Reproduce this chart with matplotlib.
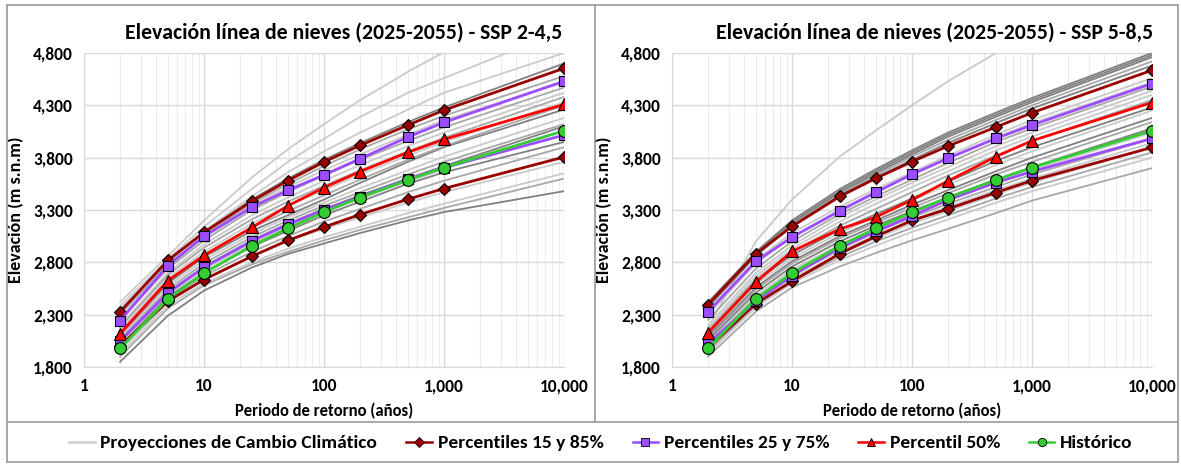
import matplotlib
matplotlib.use('Agg')
import matplotlib.pyplot as plt
from matplotlib.lines import Line2D
from matplotlib.ticker import FixedLocator, FixedFormatter, LogLocator, NullFormatter

plt.rcParams['font.family'] = ['Carlito', 'Lato', 'DejaVu Sans']
plt.rcParams['font.weight'] = 'bold'

# return periods (years)
periods = [2, 5, 10, 25, 50, 100, 200, 500, 1000, 10000]

# historical snow line elevation (same in both panels)
historico = [1978, 2451, 2698, 2956, 3124, 3279, 3419, 3587, 3705, 4057]

# SSP 2-4,5
ssp245_p15 = [2000, 2429, 2635, 2857, 3010, 3137, 3257, 3403, 3505, 3806]
ssp245_p85 = [2327, 2819, 3086, 3384, 3581, 3759, 3917, 4111, 4254, 4654]
ssp245_p25 = [2048, 2508, 2752, 3003, 3162, 3302, 3422, 3597, 3705, 4016]
ssp245_p75 = [2244, 2768, 3048, 3327, 3489, 3635, 3790, 3997, 4137, 4530]
ssp245_p50 = [2120, 2625, 2867, 3133, 3340, 3514, 3667, 3851, 3975, 4308]

ssp245_models = [
    [2420, 2860, 3200, 3610, 3880, 4120, 4350, 4620, 4810, 5400],
    [2380, 2830, 3140, 3500, 3760, 3980, 4190, 4420, 4560, 5020],
    [2350, 2800, 3100, 3430, 3660, 3860, 4040, 4260, 4420, 4800],
    [2340, 2810, 3090, 3400, 3600, 3780, 3940, 4140, 4280, 4700],
    [2300, 2780, 3060, 3360, 3550, 3720, 3880, 4070, 4200, 4580],
    [2270, 2760, 3040, 3340, 3520, 3680, 3830, 4020, 4160, 4520],
    [2250, 2740, 3010, 3300, 3470, 3630, 3780, 3960, 4090, 4470],
    [2200, 2700, 2970, 3250, 3420, 3580, 3730, 3910, 4040, 4420],
    [2180, 2680, 2940, 3210, 3380, 3530, 3680, 3860, 3990, 4380],
    [2150, 2650, 2900, 3170, 3340, 3490, 3640, 3820, 3950, 4330],
    [2100, 2600, 2850, 3100, 3250, 3400, 3560, 3760, 3900, 4260],
    [2120, 2620, 2870, 3130, 3290, 3440, 3590, 3780, 3910, 4300],
    [2080, 2570, 2820, 3070, 3230, 3370, 3510, 3680, 3810, 4180],
    [2060, 2540, 2790, 3040, 3200, 3340, 3470, 3640, 3760, 4120],
    [2040, 2510, 2760, 3010, 3170, 3310, 3440, 3600, 3720, 4100],
    [2020, 2490, 2730, 2980, 3140, 3280, 3410, 3570, 3690, 4060],
    [2000, 2470, 2700, 2950, 3100, 3250, 3380, 3550, 3660, 3950],
    [1990, 2440, 2670, 2900, 3050, 3190, 3310, 3470, 3580, 3900],
    [1960, 2420, 2640, 2860, 3000, 3120, 3230, 3370, 3470, 3760],
    [1930, 2390, 2600, 2800, 2930, 3040, 3140, 3270, 3360, 3650],
    [1900, 2360, 2580, 2780, 2900, 3010, 3110, 3230, 3320, 3600],
    [1850, 2290, 2530, 2750, 2880, 2980, 3080, 3200, 3280, 3480],
]

# SSP 5-8,5
ssp585_p15 = [1984, 2406, 2619, 2883, 3048, 3200, 3311, 3467, 3581, 3898]
ssp585_p85 = [2397, 2883, 3143, 3429, 3603, 3762, 3911, 4092, 4229, 4635]
ssp585_p25 = [2025, 2429, 2673, 2937, 3095, 3244, 3397, 3562, 3667, 3984]
ssp585_p75 = [2327, 2810, 3041, 3292, 3470, 3641, 3794, 3984, 4111, 4508]
ssp585_p50 = [2127, 2610, 2905, 3117, 3232, 3397, 3578, 3810, 3962, 4327]

ssp585_models = [
    [2180, 3000, 3400, 3810, 4060, 4300, 4530, 4800, 5000, 5800],
    [2420, 2900, 3200, 3500, 3690, 3870, 4040, 4230, 4370, 4800],
    [2400, 2890, 3180, 3480, 3670, 3850, 4020, 4210, 4350, 4780],
    [2390, 2880, 3170, 3460, 3650, 3830, 4000, 4190, 4330, 4760],
    [2380, 2870, 3160, 3450, 3630, 3810, 3970, 4160, 4300, 4720],
    [2370, 2860, 3150, 3440, 3610, 3780, 3940, 4130, 4270, 4680],
    [2340, 2820, 3080, 3330, 3500, 3660, 3820, 4020, 4160, 4560],
    [2300, 2790, 3040, 3300, 3470, 3640, 3790, 3990, 4130, 4520],
    [2250, 2740, 3000, 3260, 3430, 3590, 3750, 3950, 4080, 4480],
    [2200, 2700, 2960, 3230, 3400, 3560, 3710, 3910, 4040, 4440],
    [2170, 2670, 2930, 3190, 3360, 3520, 3670, 3870, 4000, 4400],
    [2150, 2640, 2900, 3150, 3310, 3470, 3630, 3820, 3960, 4350],
    [2130, 2620, 2870, 3110, 3260, 3410, 3570, 3770, 3900, 4280],
    [2110, 2590, 2840, 3080, 3240, 3390, 3540, 3730, 3860, 4250],
    [2090, 2560, 2810, 3050, 3200, 3350, 3490, 3670, 3800, 4180],
    [2070, 2540, 2790, 3030, 3180, 3320, 3460, 3640, 3760, 4140],
    [2050, 2510, 2760, 3000, 3150, 3290, 3420, 3590, 3710, 4080],
    [2030, 2480, 2730, 2970, 3120, 3260, 3390, 3560, 3680, 4040],
    [2010, 2460, 2700, 2940, 3090, 3230, 3360, 3520, 3640, 3980],
    [1990, 2440, 2680, 2910, 3060, 3200, 3330, 3490, 3600, 3940],
    [1970, 2420, 2650, 2880, 3030, 3170, 3290, 3450, 3560, 3900],
    [1950, 2390, 2620, 2850, 3000, 3130, 3250, 3410, 3520, 3850],
    [1930, 2370, 2600, 2820, 2960, 3090, 3210, 3370, 3480, 3800],
    [1900, 2330, 2560, 2760, 2890, 3010, 3120, 3270, 3390, 3700],
]

x_ticks = [1, 10, 100, 1000, 10000]
y_ticks = [1800, 2300, 2800, 3300, 3800, 4300, 4800]

titles = ['Elevación línea de nieves (2025-2055) - SSP 2-4,5',
          'Elevación línea de nieves (2025-2055) - SSP 5-8,5']

# gray shade of each projection line
LT, MD, DK = '#cacaca', '#a8a8a8', '#808080'
ssp245_shades = [LT, LT, LT, DK, MD, LT, MD, LT, MD, LT, DK, MD,
                 LT, MD, DK, LT, DK, MD, LT, LT, MD, DK]
ssp585_shades = [LT, DK, DK, DK, MD, DK, LT, LT, MD, LT, LT, MD,
                 DK, LT, DK, MD, DK, LT, MD, LT, LT, MD, LT, MD]

C_P15 = '#990000'
C_P25 = '#9d4dff'
C_P50 = '#ff0000'
C_HIS = '#33cc33'

W, H = 1181, 465
fig = plt.figure(figsize=(W / 100, H / 100), dpi=100)

ax_l = fig.add_axes([84 / W, 1 - 367 / H, 480 / W, 314 / H])
ax_r = fig.add_axes([672 / W, 1 - 367 / H, 480 / W, 314 / H])


def draw_panel(ax, models, shades, p15, p85, p25, p75, p50):
    for m, c in zip(models, shades):
        ax.plot(periods, m, color=c, lw=1.3, zorder=2)
    mk = dict(markeredgecolor='black', markeredgewidth=0.8)
    for s in (p15, p85):
        ax.plot(periods, s, color=C_P15, lw=2, marker='D', ms=6.5,
                markerfacecolor=C_P15, zorder=3, **mk)
    for s in (p25, p75):
        ax.plot(periods, s, color=C_P25, lw=2, marker='s', ms=7.5,
                markerfacecolor=C_P25, zorder=4, **mk)
    ax.plot(periods, p50, color=C_P50, lw=2, marker='^', ms=8.5,
            markerfacecolor=C_P50, zorder=5, **mk)
    ax.plot(periods, historico, color=C_HIS, lw=2, marker='o', ms=8.5,
            markerfacecolor=C_HIS, zorder=6, **mk)

    ax.set_xscale('log')
    ax.set_xlim(1, 10000)
    ax.set_ylim(1800, 4800)
    ax.xaxis.set_major_locator(FixedLocator(x_ticks))
    ax.xaxis.set_major_formatter(FixedFormatter([f'{v:,}' for v in x_ticks]))
    ax.xaxis.set_minor_locator(LogLocator(base=10, subs=range(2, 10)))
    ax.xaxis.set_minor_formatter(NullFormatter())
    ax.yaxis.set_major_locator(FixedLocator(y_ticks))
    ax.yaxis.set_major_formatter(FixedFormatter([f'{v:,}' for v in y_ticks]))
    ax.grid(True, which='major', color='#d9d9d9', lw=1.0, zorder=0)
    ax.grid(True, which='minor', axis='x', color='#ececec', lw=0.8, zorder=0)
    ax.set_axisbelow(True)
    ax.tick_params(which='both', length=0, labelsize=12.5, pad=8)
    for lab in ax.get_xticklabels() + ax.get_yticklabels():
        lab.set_fontweight('bold')
    for sp in ('top', 'right'):
        ax.spines[sp].set_visible(False)
    for sp in ('left', 'bottom'):
        ax.spines[sp].set_color('#d9d9d9')
    ax.set_xlabel('Periodo de retorno (años)', fontsize=12, fontweight='bold', labelpad=6)
    ax.set_ylabel('Elevación (m s.n.m)', fontsize=13, fontweight='bold', labelpad=6)


draw_panel(ax_l, ssp245_models, ssp245_shades,
           ssp245_p15, ssp245_p85, ssp245_p25, ssp245_p75, ssp245_p50)
draw_panel(ax_r, ssp585_models, ssp585_shades,
           ssp585_p15, ssp585_p85, ssp585_p25, ssp585_p75, ssp585_p50)

fig.text(344 / W, 1 - 33 / H, titles[0], ha='center', va='center', fontsize=15.7, fontweight='bold')
fig.text(935 / W, 1 - 33 / H, titles[1], ha='center', va='center', fontsize=15.7, fontweight='bold')

# frames around the two charts and the legend
bc = '#a0a0a0'
for (x0, y0, x1, y1) in [(7, 5, 1178, 5), (7, 5, 7, 462), (1178, 5, 1178, 462),
                         (595, 5, 595, 422), (7, 422, 1178, 422), (7, 462, 1178, 462)]:
    fig.add_artist(Line2D([x0 / W, x1 / W], [1 - y0 / H, 1 - y1 / H],
                          transform=fig.transFigure, color=bc, lw=1.3))

handles = [
    Line2D([], [], color='#d0d0d0', lw=2),
    Line2D([], [], color=C_P15, lw=1.8, marker='D', ms=5, markerfacecolor=C_P15,
           markeredgecolor='black', markeredgewidth=0.6),
    Line2D([], [], color=C_P25, lw=1.8, marker='s', ms=5.5, markerfacecolor=C_P25,
           markeredgecolor='black', markeredgewidth=0.6),
    Line2D([], [], color=C_P50, lw=1.8, marker='^', ms=6, markerfacecolor=C_P50,
           markeredgecolor='black', markeredgewidth=0.6),
    Line2D([], [], color=C_HIS, lw=1.8, marker='o', ms=6, markerfacecolor=C_HIS,
           markeredgecolor='black', markeredgewidth=0.6),
]
labels = ['Proyecciones de Cambio Climático', 'Percentiles 15 y 85%',
          'Percentiles 25 y 75%', 'Percentil 50%', 'Histórico']
fig.legend(handles, labels, loc='center', bbox_to_anchor=(601 / W, 1 - 443 / H),
           ncol=5, frameon=False, handlelength=1.3, handletextpad=0.3,
           columnspacing=1.5, prop={'weight': 'bold', 'size': 14})

fig.savefig('out.png', dpi=100)
